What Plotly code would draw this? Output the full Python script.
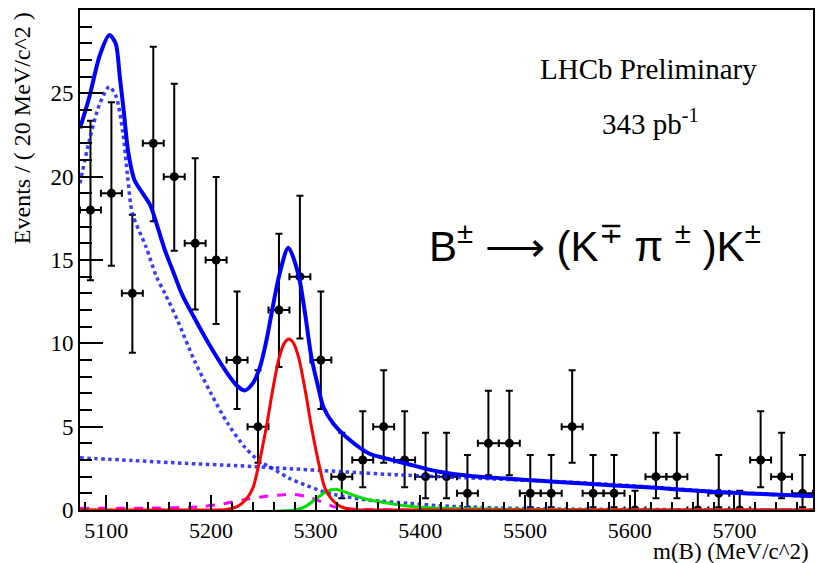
import plotly.graph_objects as go

# ---------------- data ----------------
mass = [5085, 5105, 5125, 5145, 5165, 5185, 5205, 5225, 5245, 5265,
        5285, 5305, 5325, 5345, 5365, 5385, 5405, 5425, 5445, 5465,
        5485, 5505, 5525, 5545, 5565, 5585, 5605, 5625, 5645, 5665,
        5685, 5705, 5725, 5745, 5765]
events = [18, 19, 13, 22, 20, 16, 15, 9, 5, 12,
          14, 9, 2, 3, 5, 3, 2, 2, 1, 4,
          4, 1, 1, 5, 1, 1, 0, 2, 2, 0,
          1, 0, 3, 2, 1]
err_up = [5.35, 5.47, 4.71, 5.79, 5.58, 5.11, 4.98, 4.11, 3.38, 4.57,
          4.85, 4.11, 2.64, 2.92, 3.38, 2.92, 2.64, 2.64, 2.30, 3.16,
          3.16, 2.30, 2.30, 3.38, 2.30, 2.30, 1.15, 2.64, 2.64, 1.15,
          2.30, 1.15, 2.92, 2.64, 2.30]
err_down = [4.22, 4.34, 3.56, 4.67, 4.45, 3.97, 3.84, 2.94, 2.16, 3.42,
            3.71, 2.94, 1.29, 1.63, 2.16, 1.63, 1.29, 1.29, 0.83, 1.91,
            1.91, 0.83, 0.83, 2.16, 0.83, 0.83, 0.0, 1.29, 1.29, 0.0,
            0.83, 0.0, 1.63, 1.29, 0.83]
bin_half = [10] * len(mass)

# total fit (blue solid)
total_m = [5075, 5084, 5094, 5103, 5109, 5113, 5117, 5121, 5127, 5136,
           5142, 5149, 5156, 5164, 5172, 5184, 5200, 5216, 5225, 5232,
           5240, 5247, 5253, 5259, 5265.5, 5274, 5283.5, 5290, 5296, 5302.5,
           5307.5, 5317, 5333, 5351, 5370, 5386, 5418, 5450, 5482, 5514,
           5552, 5616, 5679, 5775]
total_v = [22.9, 24.8, 27.3, 28.5, 28.0, 26.0, 23.8, 21.5, 19.8, 18.9,
           18.3, 17.0, 15.6, 14.3, 13.0, 11.55, 9.76, 8.17, 7.45, 7.17,
           7.6, 8.6, 10.16, 12.15, 14.15, 15.74, 14.15, 11.76, 9.16, 7.37,
           6.17, 5.18, 4.18, 3.39, 3.05, 2.79, 2.29, 2.03, 1.89, 1.75,
           1.6, 1.36, 1.1, 0.84]

# partially reconstructed background (blue dotted, peaking)
part_m = [5075, 5084, 5094, 5103, 5109.5, 5116, 5120.5, 5125, 5138, 5148,
          5156, 5168, 5184, 5200, 5216, 5232, 5245, 5260, 5275, 5290,
          5305, 5320, 5350, 5390, 5420, 5475, 5550, 5650, 5775]
part_v = [19.6, 22.2, 24.4, 25.4, 24.8, 22.6, 20.0, 17.8, 15.8, 14.0,
          13.0, 11.4, 9.0, 7.0, 5.2, 3.8, 3.0, 2.45, 1.9, 1.5,
          1.15, 0.9, 0.6, 0.4, 0.25, 0.12, 0.05, 0.02, 0.0]

# combinatorial background (blue dotted, slowly falling)
comb_m = [5075, 5125, 5175, 5225, 5275, 5325, 5375, 5425, 5475, 5525,
          5575, 5625, 5675, 5725, 5775]
comb_v = [3.13, 2.97, 2.8, 2.66, 2.48, 2.3, 2.12, 1.98, 1.85, 1.72,
          1.56, 1.36, 1.13, 0.97, 0.81]

# signal (red)
sig_m = [5075, 5200, 5215, 5225, 5233, 5240, 5246, 5253, 5259, 5265,
         5270, 5274.5, 5279, 5284, 5290, 5296, 5303, 5309, 5316, 5324,
         5334, 5350, 5775]
sig_v = [0, 0, 0.03, 0.2, 0.6, 1.3, 2.8, 5.0, 7.2, 9.1,
         10.0, 10.26, 10.0, 9.1, 7.2, 5.0, 2.8, 1.3, 0.6, 0.2,
         0.03, 0, 0]

# magenta dashed component
mag_m = [5075, 5150, 5190, 5210, 5230, 5250, 5270, 5280, 5295, 5305,
         5315, 5325, 5345, 5400, 5775]
mag_v = [0.1, 0.12, 0.2, 0.35, 0.6, 0.8, 0.92, 0.93, 0.75, 0.5,
         0.25, 0.1, 0.03, 0.0, 0.0]

# green component
grn_m = [5075, 5280, 5290, 5300, 5310, 5318, 5325, 5340, 5355, 5370,
         5385, 5400, 5425, 5450, 5500, 5600, 5775]
grn_v = [0, 0, 0.2, 0.65, 1.1, 1.25, 1.15, 0.8, 0.55, 0.4,
         0.26, 0.17, 0.1, 0.07, 0.03, 0.0, 0.0]

x_range = [5075, 5775]
y_range = [0, 30]
x_ticks = [5100, 5200, 5300, 5400, 5500, 5600, 5700]
y_ticks = [0, 5, 10, 15, 20, 25]

# ---------------- figure ----------------
fig = go.Figure()

fig.add_trace(go.Scatter(
    x=mass, y=events, mode="markers",
    marker=dict(color="black", size=9),
    error_y=dict(type="data", symmetric=False, array=err_up, arrayminus=err_down,
                 color="black", thickness=2, width=3.5),
    error_x=dict(type="data", array=bin_half, color="black", thickness=2, width=3.5),
    showlegend=False))

def curve(xs, ys, color, width, dash=None, opacity=1.0):
    fig.add_trace(go.Scatter(
        x=xs, y=ys, mode="lines",
        line=dict(color=color, width=width, dash=dash, shape="spline", smoothing=0.8),
        opacity=opacity, showlegend=False, hoverinfo="skip"))

curve(comb_m, comb_v, "#1a1aff", 3.5, "dot", 0.85)
curve(part_m, part_v, "#1a1aff", 3.5, "dot", 0.85)
curve(mag_m, mag_v, "#ff00ff", 3, "dash")
curve(grn_m, grn_v, "#00e000", 3)
curve(sig_m, sig_v, "#ff0000", 3)
curve(total_m, total_v, "#0000ff", 4)

serif = "Liberation Serif, Times New Roman, serif"

fig.update_xaxes(
    range=x_range, tickvals=x_ticks, ticks="inside", ticklen=15, tickwidth=1.5,
    tickcolor="black", showline=True, linecolor="black", linewidth=2, mirror=True,
    showgrid=False, zeroline=False,
    tickfont=dict(family=serif, size=22, color="black"),
    minor=dict(tick0=5100, dtick=20, ticks="inside", ticklen=8, tickwidth=1.5,
               tickcolor="black", showgrid=False))
fig.update_yaxes(
    range=y_range, tickvals=y_ticks, ticks="inside", ticklen=23, tickwidth=1.5,
    tickcolor="black", showline=True, linecolor="black", linewidth=2, mirror=True,
    showgrid=False, zeroline=False,
    tickfont=dict(family=serif, size=23, color="black"),
    minor=dict(tick0=0, dtick=1, ticks="inside", ticklen=12, tickwidth=1.5,
               tickcolor="black", showgrid=False))

W, H = 817, 563
L, R, T, B = 80, 2, 10, 53
pw, ph = W - L - R, H - T - B

def px(xpix):
    return (xpix - L) / pw

def py(ypix):
    return (T + ph - ypix) / ph

fig.add_annotation(text="Events / ( 20 MeV/c^2 )", textangle=-90,
                   x=px(22), y=py(10), xref="paper", yref="paper",
                   xanchor="center", yanchor="top", showarrow=False,
                   font=dict(family=serif, size=24, color="black"))
fig.add_annotation(text="m(B) (MeV/c^2)",
                   x=px(813), y=py(566), xref="paper", yref="paper",
                   xanchor="right", yanchor="bottom", showarrow=False,
                   font=dict(family=serif, size=23, color="black"))
fig.add_annotation(text="LHCb Preliminary",
                   x=px(650), y=py(69), xref="paper", yref="paper",
                   xanchor="center", yanchor="middle", showarrow=False,
                   font=dict(family=serif, size=29, color="black"))
fig.add_annotation(text="343 pb<sup>-1</sup>",
                   x=px(652), y=py(122), xref="paper", yref="paper",
                   xanchor="center", yanchor="middle", showarrow=False,
                   font=dict(family=serif, size=29, color="black"))
fig.add_annotation(text="B<sup>±</sup> ⟶ (K<sup>∓</sup> π <sup>±</sup> )K<sup>±</sup>",
                   x=px(428), y=py(243), xref="paper", yref="paper",
                   xanchor="left", yanchor="middle", showarrow=False,
                   font=dict(family="Liberation Sans, Arial, sans-serif", size=42, color="black"))

fig.update_layout(
    width=W, height=H,
    margin=dict(l=L, r=R, t=T, b=B),
    paper_bgcolor="white", plot_bgcolor="white",
    showlegend=False)

fig.write_html("out.html")
